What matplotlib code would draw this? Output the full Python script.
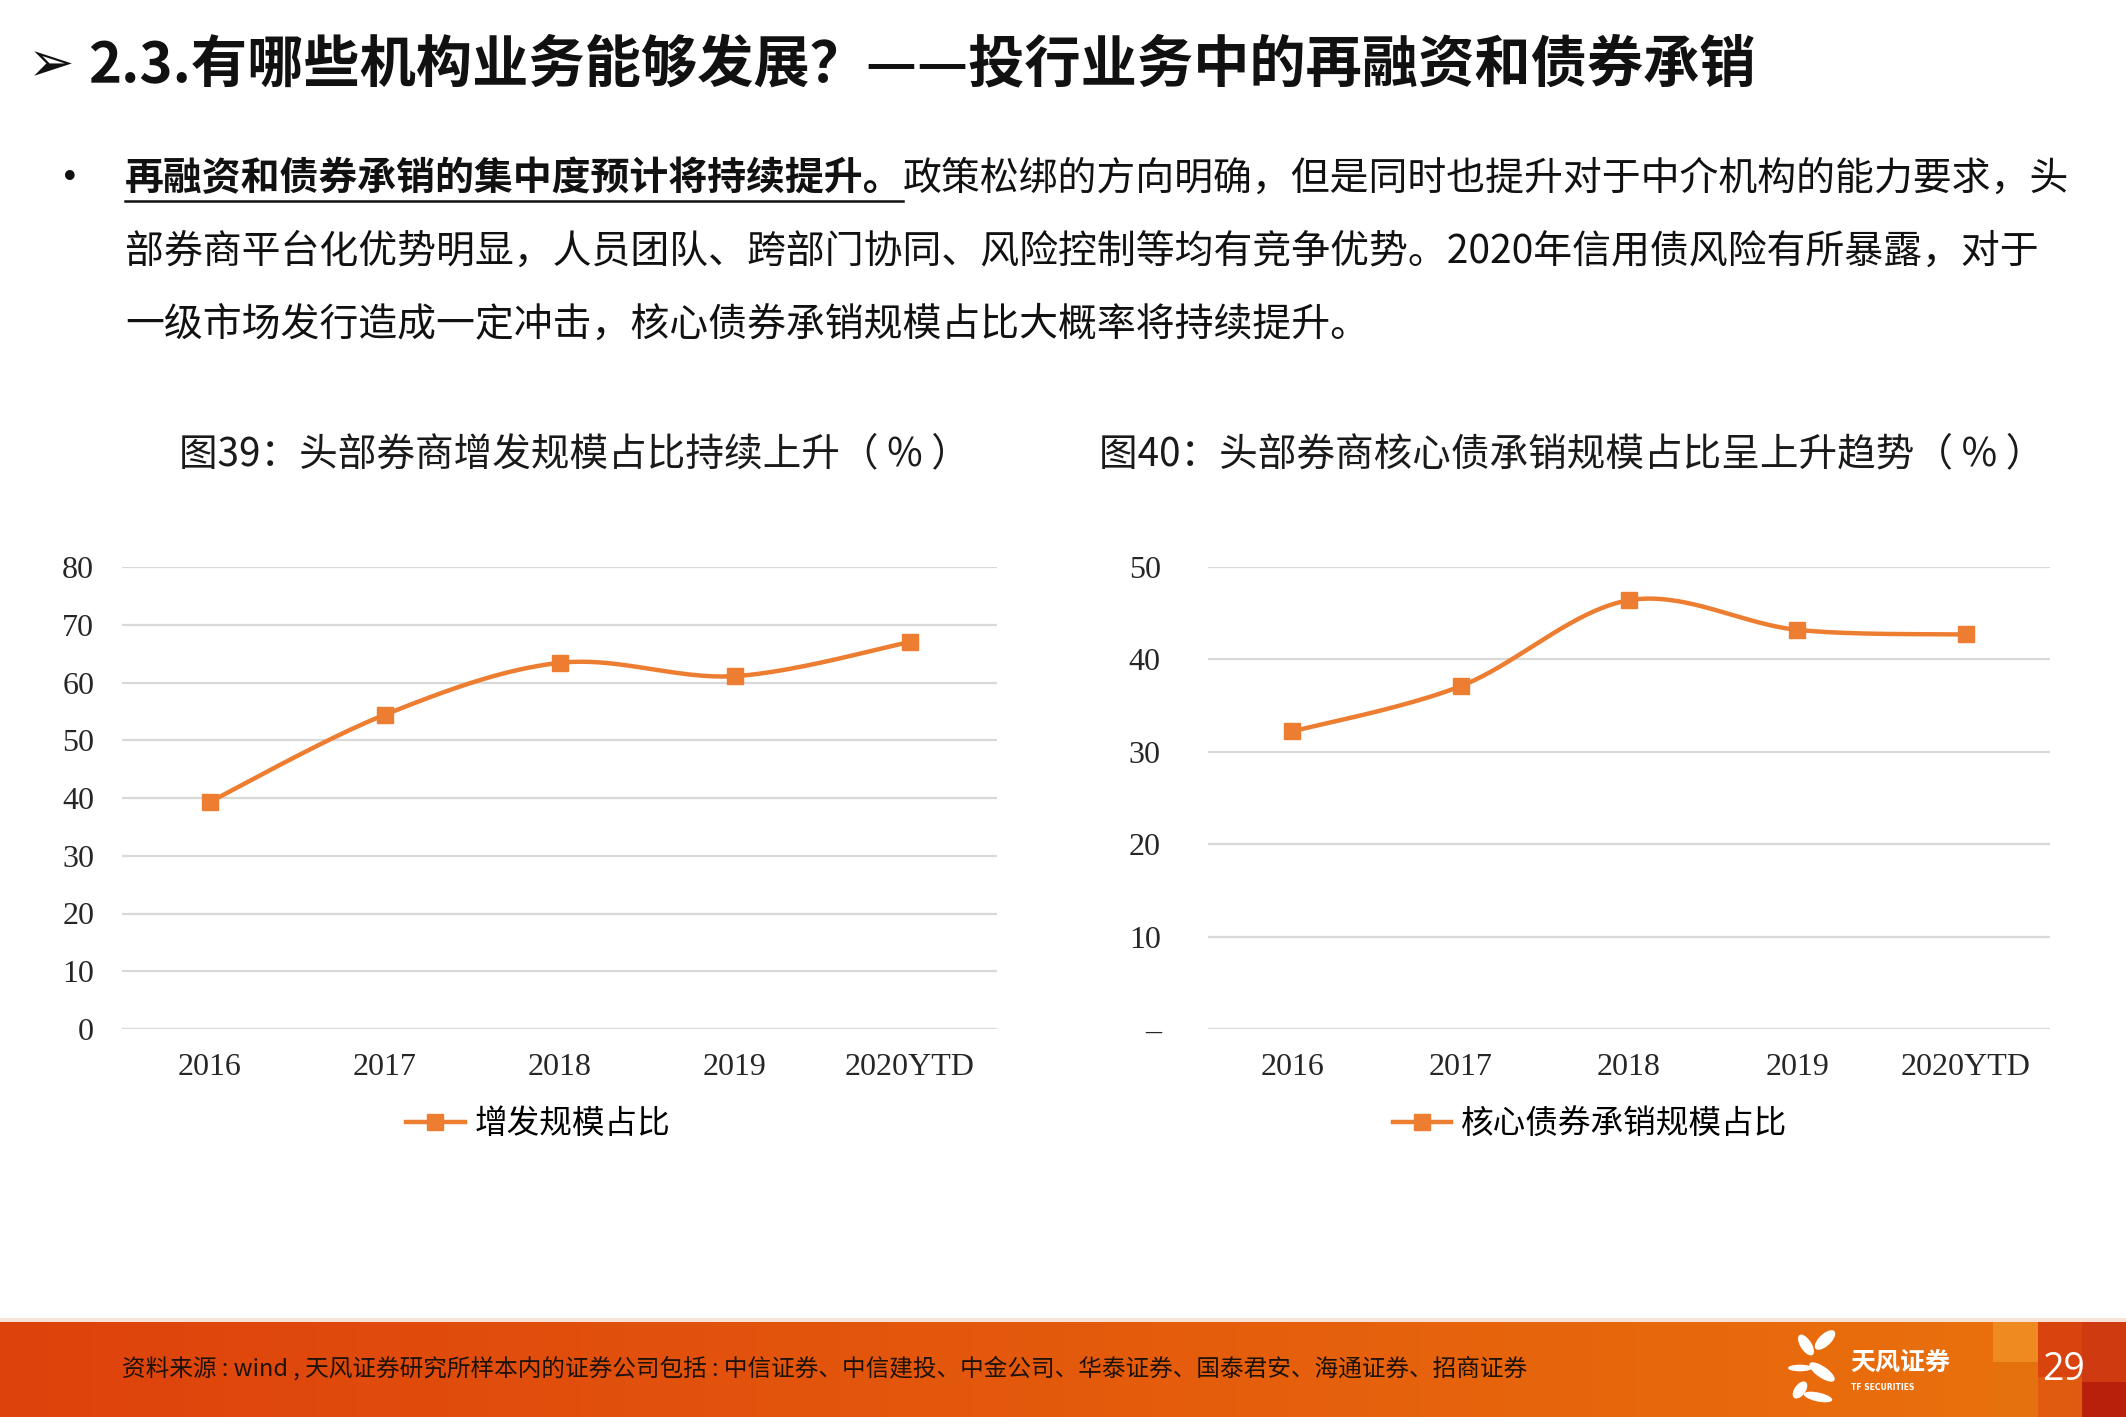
import numpy as np
import matplotlib
matplotlib.use("Agg")
import matplotlib.pyplot as plt
from matplotlib.lines import Line2D
from matplotlib.patches import Rectangle, Ellipse

plt.rcParams['font.family'] = ['Noto Sans CJK SC', 'DejaVu Sans']

# ---------------- data ----------------
years = ["2016", "2017", "2018", "2019", "2020YTD"]
share_additional_issue = [39.3, 54.4, 63.4, 61.1, 67.0]
share_core_bond = [32.2, 37.1, 46.4, 43.2, 42.7]
yticks1 = [0, 10, 20, 30, 40, 50, 60, 70, 80]
yticks2 = [0, 10, 20, 30, 40, 50]
ytick2_labels = ["–", "10", "20", "30", "40", "50"]

title_main = "2.3.有哪些机构业务能够发展？——投行业务中的再融资和债券承销"
body_bold = "再融资和债券承销的集中度预计将持续提升。"
body_line1_rest = "政策松绑的方向明确，但是同时也提升对于中介机构的能力要求，头"
body_line2 = "部券商平台化优势明显，人员团队、跨部门协同、风险控制等均有竞争优势。2020年信用债风险有所暴露，对于"
body_line3 = "一级市场发行造成一定冲击，核心债券承销规模占比大概率将持续提升。"
chart1_title = "图39：头部券商增发规模占比持续上升（ % ）"
chart2_title = "图40：头部券商核心债承销规模占比呈上升趋势（ % ）"
legend1 = "增发规模占比"
legend2 = "核心债券承销规模占比"
footer_text = "资料来源 : wind , 天风证券研究所样本内的证券公司包括 : 中信证券、中信建投、中金公司、华泰证券、国泰君安、海通证券、招商证券"
page_no = "29"

ORANGE = "#ED7D31"
GRID = "#D9D9D9"
W, H = 2126, 1417

fig = plt.figure(figsize=(W / 100, H / 100), dpi=100)
fig.patch.set_facecolor("white")


def fx(px):
    return px / W


def fy(py):
    return 1 - py / H


def smooth(xs, ys, n=40):
    """Excel-like smoothed line (Catmull-Rom Bezier) through the points."""
    xs = np.asarray(xs, float)
    ys = np.asarray(ys, float)
    px = np.concatenate([[xs[0]], xs, [xs[-1]]])
    py = np.concatenate([[ys[0]], ys, [ys[-1]]])
    ox, oy = [], []
    t = np.linspace(0, 1, n)
    for i in range(1, len(px) - 2):
        p0 = np.array([px[i], py[i]])
        p3 = np.array([px[i + 1], py[i + 1]])
        c1 = p0 + (np.array([px[i + 1], py[i + 1]]) - np.array([px[i - 1], py[i - 1]])) / 6
        c2 = p3 - (np.array([px[i + 2], py[i + 2]]) - np.array([px[i], py[i]])) / 6
        b = ((1 - t) ** 3)[:, None] * p0 + (3 * (1 - t) ** 2 * t)[:, None] * c1 + \
            (3 * (1 - t) * t ** 2)[:, None] * c2 + (t ** 3)[:, None] * p3
        ox.extend(b[:, 0])
        oy.extend(b[:, 1])
    return np.array(ox), np.array(oy)


def draw_chart(rect, values, yticks, ylabels, ymax, pad, title, title_x, leg_text, leg_x):
    ax = fig.add_axes(rect)
    x = np.arange(len(years))
    sx, sy = smooth(x, values)
    ax.plot(sx, sy, color=ORANGE, lw=3.2, solid_capstyle="round", zorder=3)
    ax.plot(x, values, ls="none", marker="s", ms=11, color=ORANGE, zorder=4)
    ax.set_xlim(-0.5, len(years) - 0.5)
    ax.set_ylim(0, ymax)
    ax.set_yticks(yticks)
    ax.set_yticklabels(ylabels)
    ax.set_xticks(x)
    ax.set_xticklabels(years)
    for s in ax.spines.values():
        s.set_visible(False)
    ax.grid(axis="y", color=GRID, lw=1.6)
    ax.set_axisbelow(True)
    ax.tick_params(axis="both", length=0, labelsize=23, labelcolor="#262626")
    ax.tick_params(axis="y", pad=pad)
    ax.tick_params(axis="x", pad=17)
    for lab in ax.get_xticklabels() + ax.get_yticklabels():
        lab.set_fontfamily(["Liberation Serif", "DejaVu Serif"])
    fig.text(title_x, fy(454), title, ha="center", va="center", fontsize=27.8, color="#1a1a1a")
    handle = Line2D([], [], color=ORANGE, lw=3.2, marker="s", ms=11)
    fig.legend([handle], [leg_text], loc="center", bbox_to_anchor=(leg_x, fy(1124)),
               frameon=False, handlelength=1.8, handletextpad=0.3,
               prop={"family": ["Noto Sans CJK SC", "DejaVu Sans"], "size": 23.5})
    return ax


ax1 = draw_chart([fx(122), fy(1029), fx(997 - 122), (1029 - 567) / H],
                 share_additional_issue, yticks1, [str(v) for v in yticks1], 80, 20,
                 chart1_title, fx(574), legend1, fx(538))
ax2 = draw_chart([fx(1208), fy(1029), fx(2050 - 1208), (1029 - 567) / H],
                 share_core_bond, yticks2, ytick2_labels, 50, 34,
                 chart2_title, fx(1572), legend2, fx(1590))

# ---------------- header ----------------
fig.text(fx(28), fy(66), "➢", fontsize=40, family=["DejaVu Sans"], va="center", ha="left", color="#111")
fig.text(fx(88), fy(65), title_main, fontsize=40.5, va="center", ha="left", color="#111",
         fontweight="bold")

renderer = fig.canvas.get_renderer()
fig.text(fx(60), fy(179), "•", fontsize=24, va="center", ha="left", color="#111",
         family=["DejaVu Sans"])
tb = fig.text(fx(125), fy(179), body_bold, fontsize=28, va="center", ha="left",
              color="#111", fontweight="bold")
bb = tb.get_window_extent(renderer)
fig.text(bb.x1 / W, fy(179), body_line1_rest, fontsize=28, va="center", ha="left", color="#111")
fig.add_artist(Line2D([bb.x0 / W, bb.x1 / W], [fy(201), fy(201)], color="#111", lw=1.8))
fig.text(fx(125), fy(252), body_line2, fontsize=28, va="center", ha="left", color="#111")
fig.text(fx(125), fy(325), body_line3, fontsize=28, va="center", ha="left", color="#111")

# ---------------- footer band ----------------
fax = fig.add_axes([0, 0, 1, 95 / H])
fax.set_axis_off()
fax.set_xlim(0, W)
fax.set_ylim(0, 95)
grad = np.linspace(0, 1, 256)
c0 = np.array([222, 66, 12]) / 255
c1 = np.array([234, 114, 12]) / 255
img = (c0[None, :] * (1 - grad[:, None]) + c1[None, :] * grad[:, None])[None, :, :]
fax.imshow(img, extent=[0, W, 0, 95], aspect="auto", zorder=0)
blocks = [(1993, 0, 45, 95, "#e5700e"), (1993, 55, 45, 40, "#ef8a20"),
          (2038, 0, 44, 95, "#e05a10"), (2038, 40, 44, 55, "#d9430e"),
          (2082, 0, 44, 95, "#cf3a10"), (2082, 0, 44, 35, "#b8200c")]
for bx, by, bw, bh, col in blocks:
    fax.add_patch(Rectangle((bx, by), bw, bh, color=col, lw=0, zorder=1))
fig.add_artist(Rectangle((0, 95 / H), 1, 4 / H, transform=fig.transFigure,
                         color="#f6e2d6", lw=0))
fig.text(fx(122), fy(1368), footer_text, fontsize=17, va="center", ha="left", color="#1e1208")

# logo
petals = [(1806, 1345, 12, 22, 20), (1825, 1340, 14, 22, -30), (1800, 1368, 10, 16, 90),
          (1822, 1372, 14, 24, 40), (1800, 1390, 12, 18, -20), (1818, 1397, 13, 20, 70)]
for px_, py_, w_, h_, ang in petals:
    fig.add_artist(Ellipse((fx(px_), fy(py_)), w_ / W, h_ / H, angle=ang,
                           transform=fig.transFigure, color="white", lw=0))
fig.text(fx(1850), fy(1363), "天风证券", fontsize=18, fontweight="bold", color="white",
         va="center", ha="left")
fig.text(fx(1851), fy(1387), "TF SECURITIES", fontsize=5.5, fontweight="bold", color="white",
         va="center", ha="left", family=["DejaVu Sans"])
fig.text(fx(2064), fy(1370), page_no, fontsize=27, color="white", va="center", ha="center",
         family=["Open Sans", "DejaVu Sans"], zorder=10)

fig.savefig("out.png", dpi=100)
